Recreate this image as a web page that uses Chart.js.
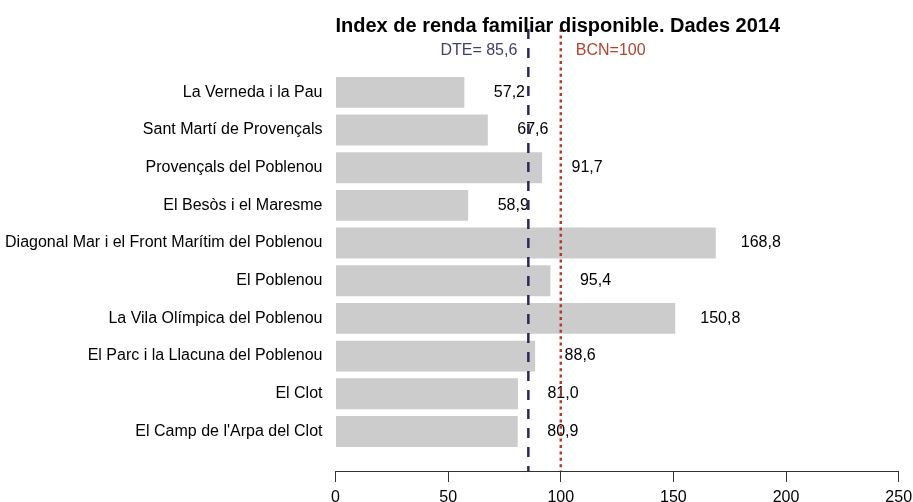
<!DOCTYPE html>
<html lang="ca">
<head>
  <meta charset="UTF-8">
  <title>Index de renda familiar disponible</title>
  <script src="https://cdn.jsdelivr.net/npm/chart.js@4.4.1/dist/chart.umd.min.js"></script>
  <style>
    body { margin: 0; background: #fff; }
    #wrap { width: 913px; height: 502px; }
  </style>
</head>
<body>
  <div id="wrap"><canvas id="renda-chart"></canvas></div>
  <script>
    // barris i index (BCN = 100)
    const barris = [
      'La Verneda i la Pau',
      'Sant Martí de Provençals',
      'Provençals del Poblenou',
      'El Besòs i el Maresme',
      'Diagonal Mar i el Front Marítim del Poblenou',
      'El Poblenou',
      'La Vila Olímpica del Poblenou',
      'El Parc i la Llacuna del Poblenou',
      'El Clot',
      "El Camp de l'Arpa del Clot"
    ];
    const renda = [57.2, 67.6, 91.7, 58.9, 168.8, 95.4, 150.8, 88.6, 81.0, 80.9];
    const xTicks = [0, 50, 100, 150, 200, 250];
    const dte = 85.6;
    const bcn = 100;

    const FONT = '"Liberation Sans", Arial, sans-serif';
    const fmt = v => v.toFixed(1).replace('.', ',');

    // titol, linies de referencia i etiquetes de valor
    const extras = {
      id: 'extras',
      afterDatasetsDraw(chart) {
        const ctx = chart.ctx;
        const x = chart.scales.x, y = chart.scales.y;
        const area = chart.chartArea;
        ctx.save();

        // valors a la dreta de cada barra
        ctx.font = '16px ' + FONT;
        ctx.fillStyle = '#000';
        ctx.textAlign = 'center';
        ctx.textBaseline = 'middle';
        renda.forEach((v, i) => {
          ctx.fillText(fmt(v), x.getPixelForValue(v + 20), y.getPixelForValue(i));
        });

        // DTE (discontinua) i BCN (puntejada)
        const top = 29;
        const xd = x.getPixelForValue(dte);
        ctx.lineWidth = 2.5;
        ctx.strokeStyle = '#2a2a5a';
        ctx.setLineDash([10, 9]);
        ctx.beginPath();
        ctx.moveTo(xd, top);
        ctx.lineTo(xd, area.bottom);
        ctx.stroke();

        const xb = x.getPixelForValue(bcn);
        ctx.strokeStyle = '#b3392b';
        ctx.setLineDash([3, 3.4]);
        ctx.beginPath();
        ctx.moveTo(xb, top);
        ctx.lineTo(xb, area.bottom);
        ctx.stroke();
        ctx.setLineDash([]);

        ctx.textBaseline = 'alphabetic';
        ctx.fillStyle = '#3f3f70';
        ctx.textAlign = 'right';
        ctx.fillText('DTE= ' + fmt(dte), xd - 11, 55);
        ctx.fillStyle = '#b8412e';
        ctx.textAlign = 'left';
        ctx.fillText('BCN=' + bcn, xb + 15, 55);

        // titol
        ctx.font = 'bold 20px ' + FONT;
        ctx.fillStyle = '#000';
        ctx.textAlign = 'left';
        ctx.fillText('Index de renda familiar disponible. Dades 2014', area.left, 32);
        ctx.restore();
      }
    };

    const ctx = document.getElementById('renda-chart').getContext('2d');
    new Chart(ctx, {
      type: 'bar',
      data: {
        datasets: [{
          data: renda.map((v, i) => ({ x: v, y: i })),
          backgroundColor: '#cccccc',
          borderWidth: 0,
          barPercentage: 0.82,
          categoryPercentage: 1
        }]
      },
      options: {
        indexAxis: 'y',
        responsive: true,
        maintainAspectRatio: false,
        animation: false,
        layout: { padding: { top: 73.5, right: 14.3, bottom: 0, left: 0 } },
        plugins: {
          legend: { display: false },
          tooltip: { enabled: false },
          title: { display: false }
        },
        scales: {
          x: {
            type: 'linear',
            min: 0,
            max: 250,
            afterBuildTicks: s => { s.ticks = xTicks.map(v => ({ value: v })); },
            afterFit: s => { s.height = 31; s.paddingLeft = 0; s.paddingRight = 0; },
            grid: { display: true, drawOnChartArea: false, tickLength: 11, color: '#333', lineWidth: 1 },
            border: { display: true, color: '#333', width: 1 },
            ticks: { color: '#000', font: { size: 16, family: FONT }, padding: 5.5, maxRotation: 0 }
          },
          y: {
            type: 'linear',
            reverse: true,
            offset: false,
            min: -0.5,
            max: 10.05,
            afterBuildTicks: s => { s.ticks = barris.map((b, i) => ({ value: i })); },
            afterFit: s => { s.width = 335.5; s.paddingTop = 0; s.paddingBottom = 0; },
            grid: { display: false, drawTicks: false },
            border: { display: false },
            ticks: {
              color: '#000',
              font: { size: 16, family: FONT },
              padding: 13,
              callback: v => barris[v]
            }
          }
        }
      },
      plugins: [extras]
    });
  </script>
</body>
</html>
